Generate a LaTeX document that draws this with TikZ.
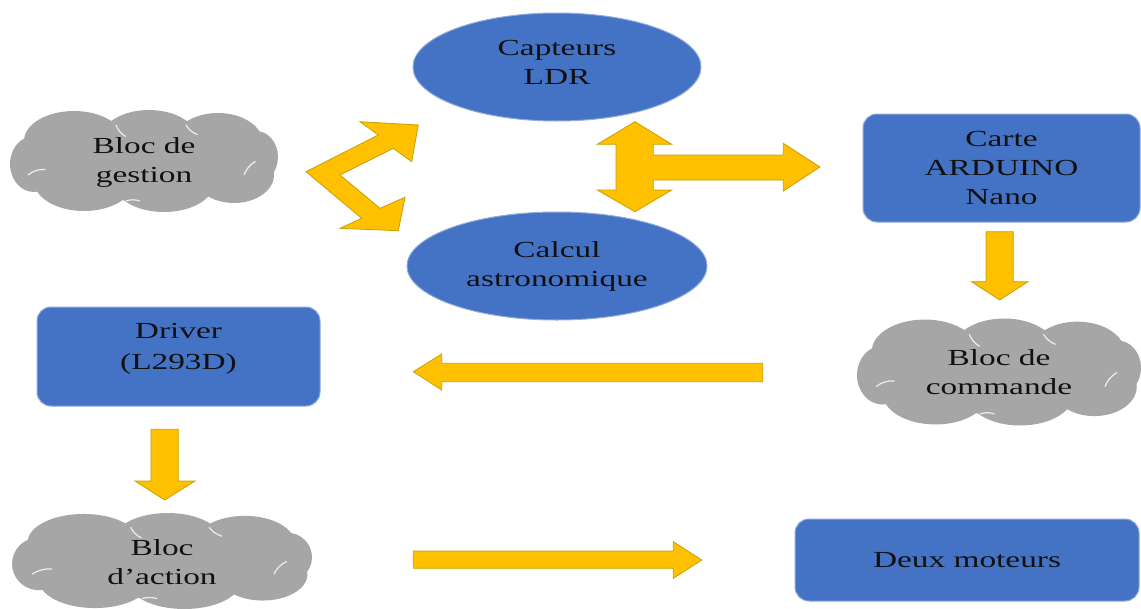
\documentclass[tikz,border=0pt]{standalone}
\usepackage{fontspec}
\setmainfont{Liberation Serif}[FakeStretch=1.45]
\usetikzlibrary{shapes.geometric}
\definecolor{obl}{HTML}{4472C4}
\definecolor{oyel}{HTML}{FFC000}
\definecolor{oyeld}{HTML}{C9A000}
\definecolor{ogray}{HTML}{A6A6A6}
\definecolor{otxt}{HTML}{111111}
\tikzset{
  every node/.style={text=otxt, font=\fontsize{23}{29}\selectfont, align=center},
  ovalbox/.style={ellipse, fill=obl, draw=obl!60!white, line width=1pt, inner sep=0pt},
  rbox/.style={rectangle, rounded corners=14pt, fill=obl, draw=obl!60!white, line width=1pt, inner sep=0pt},
  cloudbox/.style={ellipse, inner sep=0pt},
  cloudfill/.style={fill=ogray},
  cloudline/.style={draw=white!80!ogray, line width=1.2pt},
  blockarrow/.style={fill=oyel, draw=oyeld, line width=0.8pt, line join=miter},
}
% cloud silhouette drawn behind a node: #1 = centre, #2 = width, #3 = height
\newcommand\mycloud[3]{%
  \begin{scope}[shift={(#1)}, xscale=#2/268, yscale=#3/102]
    \fill[cloudfill] (0,0) ellipse [x radius=118, y radius=40]
      (-70,-20) ellipse [x radius=50, y radius=30]
      (5,-22) ellipse [x radius=48, y radius=29]
      (74,-18) ellipse [x radius=45, y radius=30]
      (-60,20) ellipse [x radius=50, y radius=30]
      (20,22) ellipse [x radius=50, y radius=29]
      (90,14) ellipse [x radius=40, y radius=28]
      (-110,3) ellipse [x radius=24, y radius=28]
      (112,-4) ellipse [x radius=22, y radius=26];
    \draw[cloudline] (-116,14) arc [start angle=230, end angle=275, radius=24];
    \draw[cloudline] (-28,-36) arc [start angle=160, end angle=120, radius=22];
    \draw[cloudline] (42,-36) arc [start angle=150, end angle=110, radius=22];
    \draw[cloudline] (100,14) arc [start angle=200, end angle=240, radius=26];
    \draw[cloudline] (-18,40) arc [start angle=250, end angle=290, radius=20];
  \end{scope}}
\begin{document}
\begin{tikzpicture}[x=1pt,y=-1pt]
\useasboundingbox (0,0) rectangle (1141,608);
\fill[white] (0,0) rectangle (1141,608);
% blue nodes
\node[ovalbox, minimum width=288, minimum height=108] (capt) at (557,67) {};
\node (capttxt) at (557,62) {Capteurs\\LDR};
\node[ovalbox, minimum width=300, minimum height=108] (calc) at (557,266) {Calcul\\astronomique};
\node[rbox, minimum width=277, minimum height=108] (carte) at (1001.5,168) {Carte\\ARDUINO\\Nano};
\node[rbox, minimum width=283, minimum height=99] (driver) at (178.5,356.5) {};
\node (drivertxt) at (178.5,349) {Driver\\[2pt](L293D)};
\node[rbox, minimum width=344, minimum height=82] (mot) at (967,560) {Deux moteurs};
% clouds
\coordinate (gestc) at (144,161);
\coordinate (commc) at (999,372);
\coordinate (actc) at (162,561);
\mycloud{gestc}{268}{102}
\mycloud{commc}{284}{107}
\mycloud{actc}{300}{96}
\node[cloudbox] (gest) at (144,162) {Bloc de\\gestion};
\node[cloudbox] (comm) at (999,372) {Bloc de\\commande};
\node[cloudbox] (action) at (162,562) {Bloc\\d’action};
% block arrows
\draw[blockarrow] (306,171.7) -- (378.3,135) -- (360,121.7) -- (418.3,125) -- (411.7,161.7)
  -- (393.3,148.3) -- (340,175) -- (380,208.3) -- (405,197.3) -- (398.3,230.7)
  -- (340,228.3) -- (361.7,218.3) -- cycle;
\draw[blockarrow] (635,121.7) -- (671.7,144.3) -- (653.3,144.3) -- (653.3,155) -- (783.3,155)
  -- (783.3,143.3) -- (820,167) -- (783.3,191) -- (783.3,180) -- (653.3,180) -- (653.3,190)
  -- (671.7,190) -- (635,211.7) -- (597.3,190) -- (616,190) -- (616,144.3) -- (597.3,144.3) -- cycle;
\draw[blockarrow] (413.3,371.7) -- (441.7,354) -- (441.7,363.3) -- (762.7,363.3) -- (762.7,381.7)
  -- (441.7,381.7) -- (441.7,390) -- cycle;
\draw[blockarrow] (986,231.7) -- (1013.3,231.7) -- (1013.3,281.7) -- (1028,281.7) -- (999.7,300)
  -- (971.5,281.7) -- (986,281.7) -- cycle;
\draw[blockarrow] (151,429.3) -- (178.3,429.3) -- (178.3,481) -- (195,481) -- (164.7,500)
  -- (135,481) -- (151,481) -- cycle;
\draw[blockarrow] (413.3,551) -- (673.3,551) -- (673.3,541.7) -- (701.7,560) -- (673.3,578.3)
  -- (673.3,568.3) -- (413.3,568.3) -- cycle;
\end{tikzpicture}
\end{document}
